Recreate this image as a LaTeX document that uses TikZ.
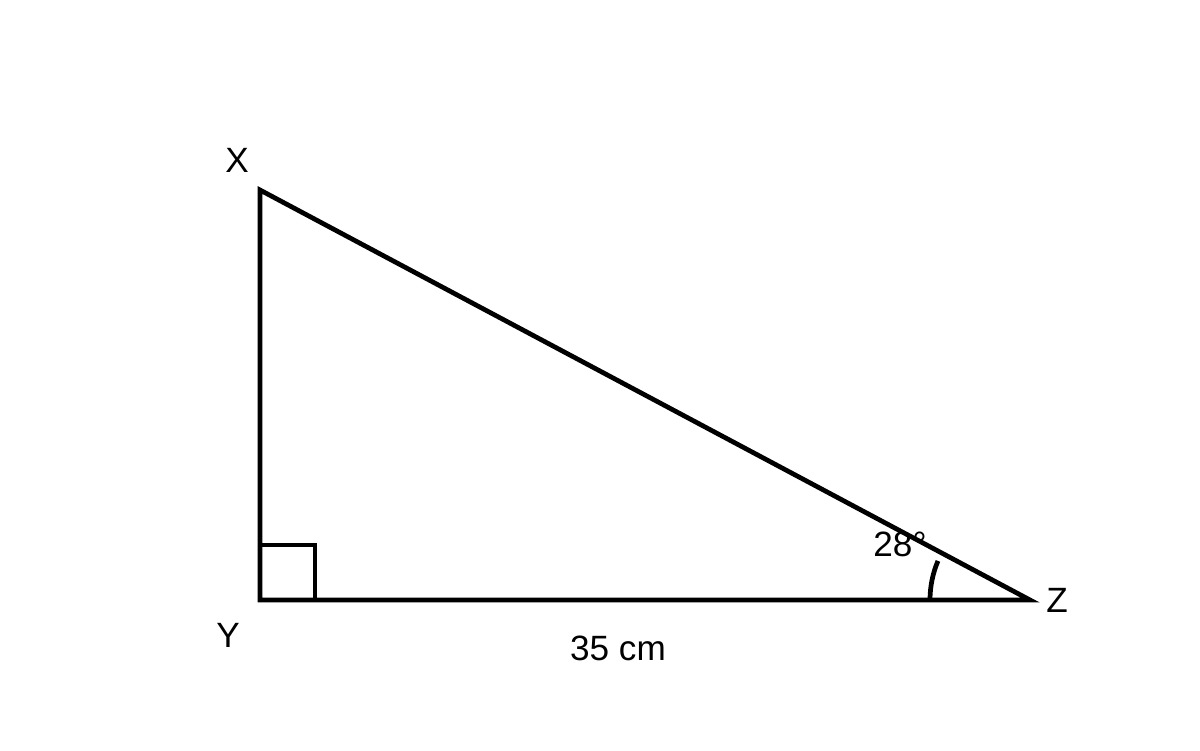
\documentclass[tikz,border=0pt]{standalone}
\usepackage{fontspec}
\setmainfont{Liberation Sans}
\usepackage{tikz}
\tikzset{
  side/.style={line width=2.7pt, line join=miter},
  lbl/.style={font=\fontsize{20}{24}\selectfont, inner sep=0}
}

\begin{document}
\begin{tikzpicture}
    \useasboundingbox (0,0) rectangle (24,15);

    % Corners of the triangle
    \coordinate (X) at (5.2,11.2);
    \coordinate (Y) at (5.2,3.0);
    \coordinate (Z) at (20.6,3.0);

    % Draw the triangle
    \draw[side] (X) -- (Y) -- (Z) -- cycle;

    % Right angle and angle mark
    \draw[side] (5.2,4.1) -- (6.3,4.1) -- (6.3,3.0);
    \draw[side] ([xshift=-2cm]Z) arc (180:157:2);

    % Label the corners
    \node[lbl] (labX) at (4.74,11.8) {X};
    \node[lbl] (labY) at (4.56,2.3) {Y};
    \node[lbl] (labZ) at (21.14,3.0) {Z};

    % Label the side and angle
    \node[lbl] (base) at (12.36,2.04) {35 cm};
    \node[lbl] (ang) at (18.0,4.12) {28°};
\end{tikzpicture}
\end{document}
